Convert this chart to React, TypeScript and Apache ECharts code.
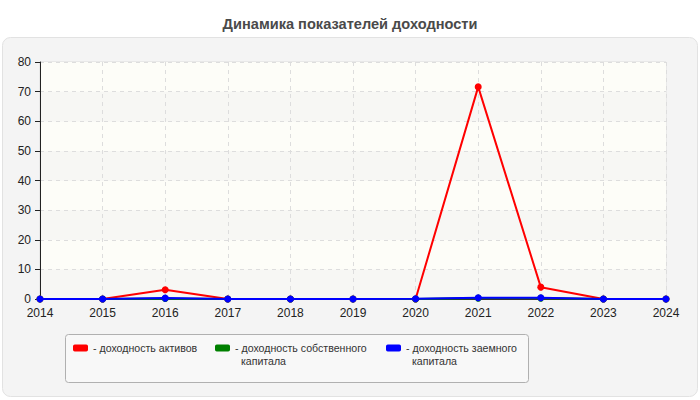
import React, { useEffect, useRef } from "react";
import * as echarts from "echarts";

const years = ["2014", "2015", "2016", "2017", "2018", "2019", "2020", "2021", "2022", "2023", "2024"];
const seriesNames = [
  "доходность активов",
  "доходность собственного капитала",
  "доходность заемного капитала",
];
const legendLabels = [
  "- доходность активов",
  "\n- доходность собственного\n\u00a0\u00a0капитала",
  "\n- доходность заемного\n\u00a0\u00a0капитала",
];
const seriesColors = ["#ff0000", "#008000", "#0000ff"];
const assetsReturn = [0, 0, 3.1, 0, 0, 0, 0, 71.6, 4.0, 0, 0];
const equityReturn = [0, 0, 0.2, 0, 0, 0, 0, 0.3, 0.3, 0, 0];
const debtReturn = [0, 0, 0.3, 0, 0, 0, 0.1, 0.4, 0.4, 0, 0];
const seriesValues = [assetsReturn, equityReturn, debtReturn];
const titleText = "Динамика показателей доходности";

const FONT = 'Arial, "Liberation Sans", sans-serif';

export default function App() {
  const ref = useRef<HTMLDivElement>(null);
  useEffect(() => {
    if (!ref.current) return;
    const chart = echarts.init(ref.current, undefined, { renderer: "svg" });
    const legendLefts = [73, 215, 386];
    const legendTops = [341.5, 328.5, 328.5];
    chart.setOption({
      animation: false,
      backgroundColor: "#ffffff",
      textStyle: { fontFamily: FONT },
      title: {
        text: titleText,
        left: "center",
        top: 11,
        textStyle: { fontFamily: FONT, fontSize: 14.6, fontWeight: "bold", color: "#4a4a4a" },
      },
      graphic: [
        {
          type: "rect",
          z: -10,
          shape: { x: 2.5, y: 37.5, width: 695, height: 359, r: 8 },
          style: { fill: "#f4f4f4", stroke: "#e2e2e2", lineWidth: 1 },
        },
        {
          type: "rect",
          z: -5,
          shape: { x: 65.5, y: 334.5, width: 463, height: 48, r: 3 },
          style: { fill: "#f8f8f8", stroke: "#b0b0b0", lineWidth: 1 },
        },
      ],
      legend: seriesNames.map((name, i) => ({
        left: legendLefts[i],
        top: legendTops[i],
        orient: "horizontal",
        padding: 0,
        itemWidth: 15,
        itemHeight: 7,
        selectedMode: false,
        data: [{ name, icon: "roundRect" }],
        formatter: () => legendLabels[i],
        textStyle: { fontFamily: FONT, fontSize: 10.6, color: "#333", lineHeight: 13 },
      })),
      grid: {
        left: 40,
        right: 34,
        top: 62,
        bottom: 101,
        show: true,
        borderColor: "#dddddd",
        borderWidth: 1,
        backgroundColor: "transparent",
      },
      xAxis: {
        type: "category",
        data: years,
        boundaryGap: false,
        axisLine: { show: true, lineStyle: { color: "#333", width: 1 } },
        axisTick: { show: false },
        axisLabel: { color: "#222", fontSize: 12, fontFamily: FONT, margin: 8 },
        splitLine: { show: true, lineStyle: { color: "#dddddd", type: [4, 4] } },
      },
      yAxis: {
        type: "value",
        min: 0,
        max: 80,
        interval: 10,
        axisLine: { show: true, lineStyle: { color: "#222", width: 1 } },
        axisTick: { show: true, length: 5, lineStyle: { color: "#222" } },
        axisLabel: { color: "#222", fontSize: 12, fontFamily: FONT, margin: 9 },
        splitLine: { show: true, lineStyle: { color: "#dddddd", type: [4, 4] } },
        splitArea: { show: true, areaStyle: { color: ["#f7f7f4", "#fdfdf8"] } },
      },
      series: seriesNames.map((name, i) => ({
        name,
        type: "line",
        data: seriesValues[i],
        symbol: "circle",
        symbolSize: 7,
        showSymbol: true,
        lineStyle: { color: seriesColors[i], width: 2 },
        itemStyle: { color: seriesColors[i] },
        z: 2 + i,
      })),
    });
    return () => chart.dispose();
  }, []);
  return (
    <div
      ref={ref}
      style={{ position: "fixed", left: 0, top: 0, width: 700, height: 400 }}
    />
  );
}
